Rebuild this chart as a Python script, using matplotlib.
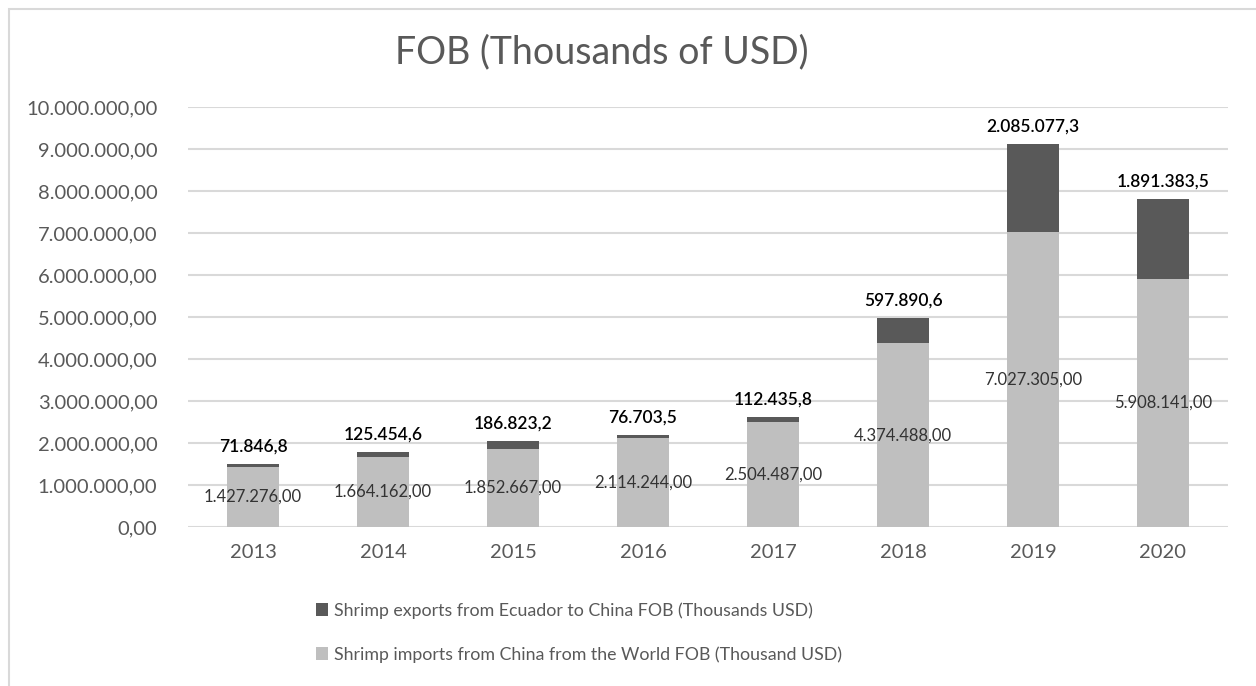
import matplotlib.pyplot as plt
from matplotlib.patches import Rectangle

# data
years = ["2013", "2014", "2015", "2016", "2017", "2018", "2019", "2020"]
imports_world = [1427276, 1664162, 1852667, 2114244, 2504487, 4374488, 7027305, 5908141]
exports_ecuador = [71846.8, 125454.6, 186823.2, 76703.5, 112435.8, 597890.6, 2085077.3, 1891383.5]
yticks = [0, 1e6, 2e6, 3e6, 4e6, 5e6, 6e6, 7e6, 8e6, 9e6, 10e6]

label_exports = "Shrimp exports from Ecuador to China FOB (Thousands USD)"
label_imports = "Shrimp imports from China from the World FOB (Thousand USD)"

DARK = "#595959"
LIGHT = "#bfbfbf"
GRID = "#d9d9d9"
TEXT = "#595959"

plt.rcParams['font.family'] = ['Lato', 'DejaVu Sans']


def eu(v, dec):
    # european number format: 1.234.567,89
    s = f"{v:,.{dec}f}"
    return s.replace(",", "X").replace(".", ",").replace("X", ".")


fig = plt.figure(figsize=(12.56, 6.86), dpi=100)
ax = fig.add_axes([188 / 1256, 159 / 686, 1040 / 1256, 420 / 686])

x = list(range(len(years)))
b1 = ax.bar(x, imports_world, width=0.4, color=LIGHT, zorder=3, label=label_imports)
b2 = ax.bar(x, exports_ecuador, width=0.4, bottom=imports_world, color=DARK, zorder=3,
            label=label_exports)

# labels inside light segment and above the stack
for i in x:
    ax.text(i, imports_world[i] / 2, eu(imports_world[i], 2), ha="center", va="center",
            fontsize=12, color="#333333", zorder=4)
    top = imports_world[i] + exports_ecuador[i]
    ax.annotate(eu(exports_ecuador[i], 1), (i, top), xytext=(0, 7), textcoords="offset points",
                ha="center", va="bottom", fontsize=12.5, color="black", fontweight="semibold")

ax.set_xlim(-0.5, len(years) - 0.5)
ax.set_ylim(0, 10e6)
ax.set_yticks(yticks)
ax.set_yticklabels([eu(t, 2) for t in yticks])
ax.set_xticks(x)
ax.set_xticklabels(years)
ax.tick_params(axis="both", length=0, labelsize=14.5, colors=TEXT)
ax.tick_params(axis="y", pad=22)
ax.tick_params(axis="x", pad=12)
ax.grid(axis="y", color=GRID, linewidth=1.5, zorder=0)
for sp in ax.spines.values():
    sp.set_visible(False)

fig.text(602 / 1256, 1 - 52 / 686, "FOB (Thousands of USD)", ha="center", va="center",
         fontsize=27, color=TEXT)

leg = fig.legend(handles=[b2, b1], loc="upper left", bbox_to_anchor=(300 / 1256, 1 - 586 / 686),
                 frameon=False, fontsize=12.8, labelspacing=1.55, handlelength=0.7,
                 handleheight=0.7, handletextpad=0.3)
for t in leg.get_texts():
    t.set_color(TEXT)

# chart area border (only top/left visible in the reference)
fig.patches.append(Rectangle((8.5 / 1256, -0.1), 1.2, 1 - 8.5 / 686 + 0.1, transform=fig.transFigure,
                             fill=False, edgecolor=GRID, linewidth=1.5))

fig.savefig("out.png", dpi=100)
